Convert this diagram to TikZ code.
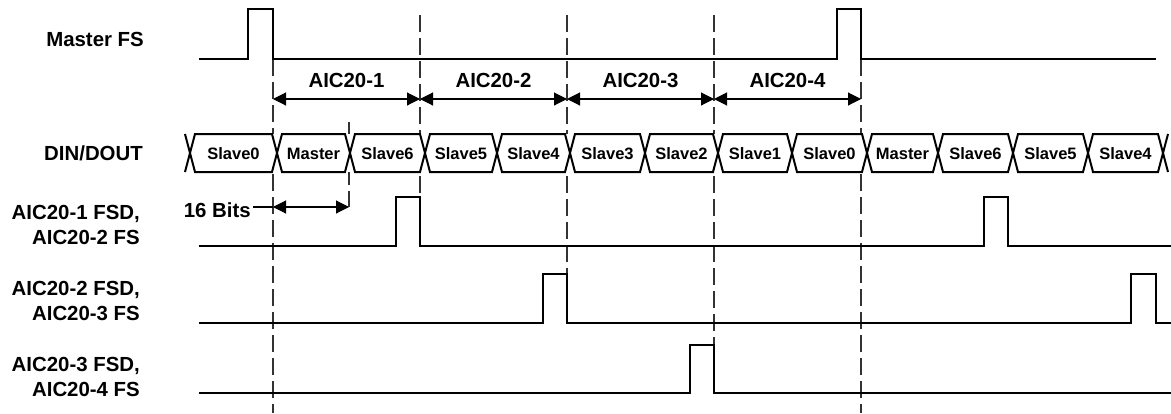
\documentclass[tikz,border=0pt]{standalone}
\usepackage{fontspec}
\setmainfont{Liberation Sans}
\usetikzlibrary{arrows.meta}
\begin{document}
\begin{tikzpicture}[x=1pt,y=-1pt,
  sig/.style={line width=2.4pt, line join=miter},
  guide/.style={black!80, line width=1.2pt, dash pattern=on 17pt off 6pt},
  dim/.style={line width=1.1pt, {Triangle[length=13pt,width=13pt]}-{Triangle[length=13pt,width=13pt]}},
  leader/.style={line width=1.1pt},
  lbl/.style={font=\fontsize{20.4}{25}\selectfont\bfseries, inner sep=0pt, anchor=base east, align=right},
  toplbl/.style={font=\fontsize{20.4}{25}\selectfont\bfseries, inner sep=0pt, anchor=base},
  slotlbl/.style={font=\fontsize{16.5}{20}\selectfont\bfseries, inner sep=0pt, anchor=base},
  slot/.style={line width=2pt, fill=white, line join=miter}]
\useasboundingbox (0,0) rectangle (1171,413);

% left labels
\node[lbl] (lmfs) at (144,46) {Master FS};
\node[lbl] (ldin) at (143,160) {DIN/DOUT};
\node[lbl] (lf1) at (140,244.5) {AIC20-1 FSD,\\AIC20-2 FS};
\node[lbl] (lf2) at (140,320.5) {AIC20-2 FSD,\\AIC20-3 FS};
\node[lbl] (lf3) at (140,396) {AIC20-3 FSD,\\AIC20-4 FS};

% guide (dashed) lines
\draw[guide] (273,59) -- (273,413);
\draw[guide] (420,15) -- (420,197);
\draw[guide] (567,15) -- (567,274);
\draw[guide] (714,15) -- (714,345);
\draw[guide] (861,59) -- (861,413);
\draw[guide] (349,122) -- (349,207);

% data row
\fill[white] (185,134) rectangle (1171,172);
\foreach \a/\b/\t [count=\i] in {190/277/Slave0, 277/350/Master, 350/425/Slave6, 425/497/Slave5, 497/570/Slave4, 570/645/Slave3, 645/718/Slave2, 718/792/Slave1, 792/867/Slave0, 867/938/Master, 938/1013/Slave6, 1013/1088/Slave5, 1088/1163/Slave4} {
  \draw[slot] (\a+5,134) -- (\b-5,134) -- (\b,153) -- (\b-5,172) -- (\a+5,172) -- (\a,153) -- cycle;
  \node[slotlbl] (s\i) at ({(\a+\b)/2},159) {\t};
}
\draw[slot, fill=none] (185,134) -- (190,153) -- (185,172);
\draw[slot, fill=none] (1168,134) -- (1163,153) -- (1168,172);

% Master FS
\draw[sig] (199,59) -- (248,59) -- (248,9) -- (273,9) -- (273,59) -- (837,59) -- (837,9) -- (861,9) -- (861,59) -- (1156,59);
% AIC20-1 FSD
\draw[sig] (199,246) -- (396,246) -- (396,197) -- (420,197) -- (420,246) -- (984,246) -- (984,197) -- (1008,197) -- (1008,246) -- (1171,246);
% AIC20-2 FSD
\draw[sig] (199,323) -- (543,323) -- (543,274) -- (567,274) -- (567,323) -- (1131,323) -- (1131,274) -- (1156,274) -- (1156,323) -- (1171,323);
% AIC20-3 FSD
\draw[sig] (199,393) -- (690,393) -- (690,345) -- (714,345) -- (714,393) -- (1171,393);

% frame spans
\coordinate (p0) at (273,99);
\coordinate (p1) at (420,99);
\coordinate (p2) at (567,99);
\coordinate (p3) at (714,99);
\coordinate (p4) at (861,99);
\draw[dim] (p0) -- (p1);
\draw[dim] (p1) -- (p2);
\draw[dim] (p2) -- (p3);
\draw[dim] (p3) -- (p4);
\node[toplbl] (a1) at (346.5,87) {AIC20-1};
\node[toplbl] (a2) at (493.5,87) {AIC20-2};
\node[toplbl] (a3) at (640.5,87) {AIC20-3};
\node[toplbl] (a4) at (787.5,87) {AIC20-4};

% 16 bits
\node[toplbl, anchor=base east] (bits) at (251,217) {16 Bits};
\coordinate (b0) at (273,207);
\coordinate (b1) at (349,207);
\draw[leader] (bits.east |- b0) ++(2,0) -- (b0);
\draw[dim] (b0) -- (b1);
\end{tikzpicture}
\end{document}
